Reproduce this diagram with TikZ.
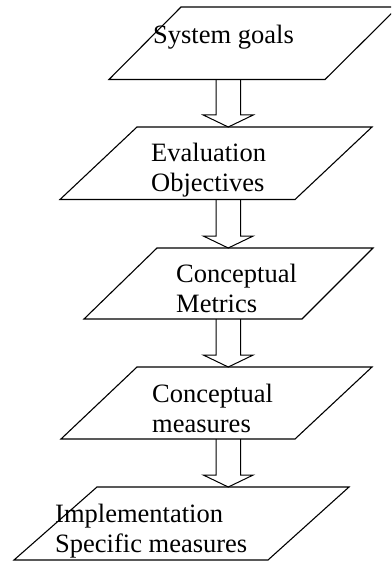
\documentclass[tikz,border=0pt]{standalone}
\usepackage{fontspec}
\setmainfont{Liberation Serif}
\usetikzlibrary{calc}
\tikzset{
  shapeline/.style={draw=black, line width=1.1pt, line join=miter},
  arrowline/.style={draw=black, line width=1pt, line join=miter},
  label/.style={anchor=base west, inner sep=0pt, align=left, font=\fontsize{26.5}{30}\selectfont},
}
\newcommand\barrow[2]{%
  \draw[arrowline] let \p1=(#1), \p2=(#2) in
    (\x1-12.25pt,\y1) -- (\x1-12.25pt,\y2+12pt) -- (\x1-25pt,\y2+12pt) --
    (\x2,\y2) -- (\x1+25pt,\y2+12pt) -- (\x1+12.25pt,\y2+12pt) -- (\x1+12.25pt,\y1);}
\begin{document}
\begin{tikzpicture}[x=1pt,y=-1pt]
\useasboundingbox (0,0) rectangle (391,561);
\clip (0,0) rectangle (391,561);
% shapes
\draw[shapeline] (181,7) -- (398,7) -- (325,79.5) -- (109,79.5) -- cycle;
\draw[shapeline] (137,127) -- (372,127) -- (295,199.5) -- (60,199.5) -- cycle;
\draw[shapeline] (157,248) -- (373,248) -- (302,319) -- (84,319) -- cycle;
\draw[shapeline] (137,367) -- (372,367) -- (295,439) -- (61,439) -- cycle;
\draw[shapeline] (97,487) -- (349,487) -- (268,560) -- (14,560) -- cycle;
% texts (base anchor = last line's baseline)
\node[label] (t1) at (153,44) {System goals};
\node[label] (t2) at (151,192) {Evaluation\\Objectives};
\node[label] (t3) at (176,312) {Conceptual\\Metrics};
\node[label] (t4) at (152,432) {Conceptual\\measures};
\node[label] (t5) at (55,552) {Implementation\\Specific measures};
% arrow anchors
\coordinate (b1) at (228.25,79.5);  \coordinate (h2) at (228.25,127);
\coordinate (b2) at (228.25,199.5); \coordinate (h3) at (228.25,248);
\coordinate (b3) at (228.25,319);   \coordinate (h4) at (228.25,367);
\coordinate (b4) at (228.25,439);   \coordinate (h5) at (228.25,487);
\barrow{b1}{h2}
\barrow{b2}{h3}
\barrow{b3}{h4}
\barrow{b4}{h5}
\end{tikzpicture}
\end{document}
